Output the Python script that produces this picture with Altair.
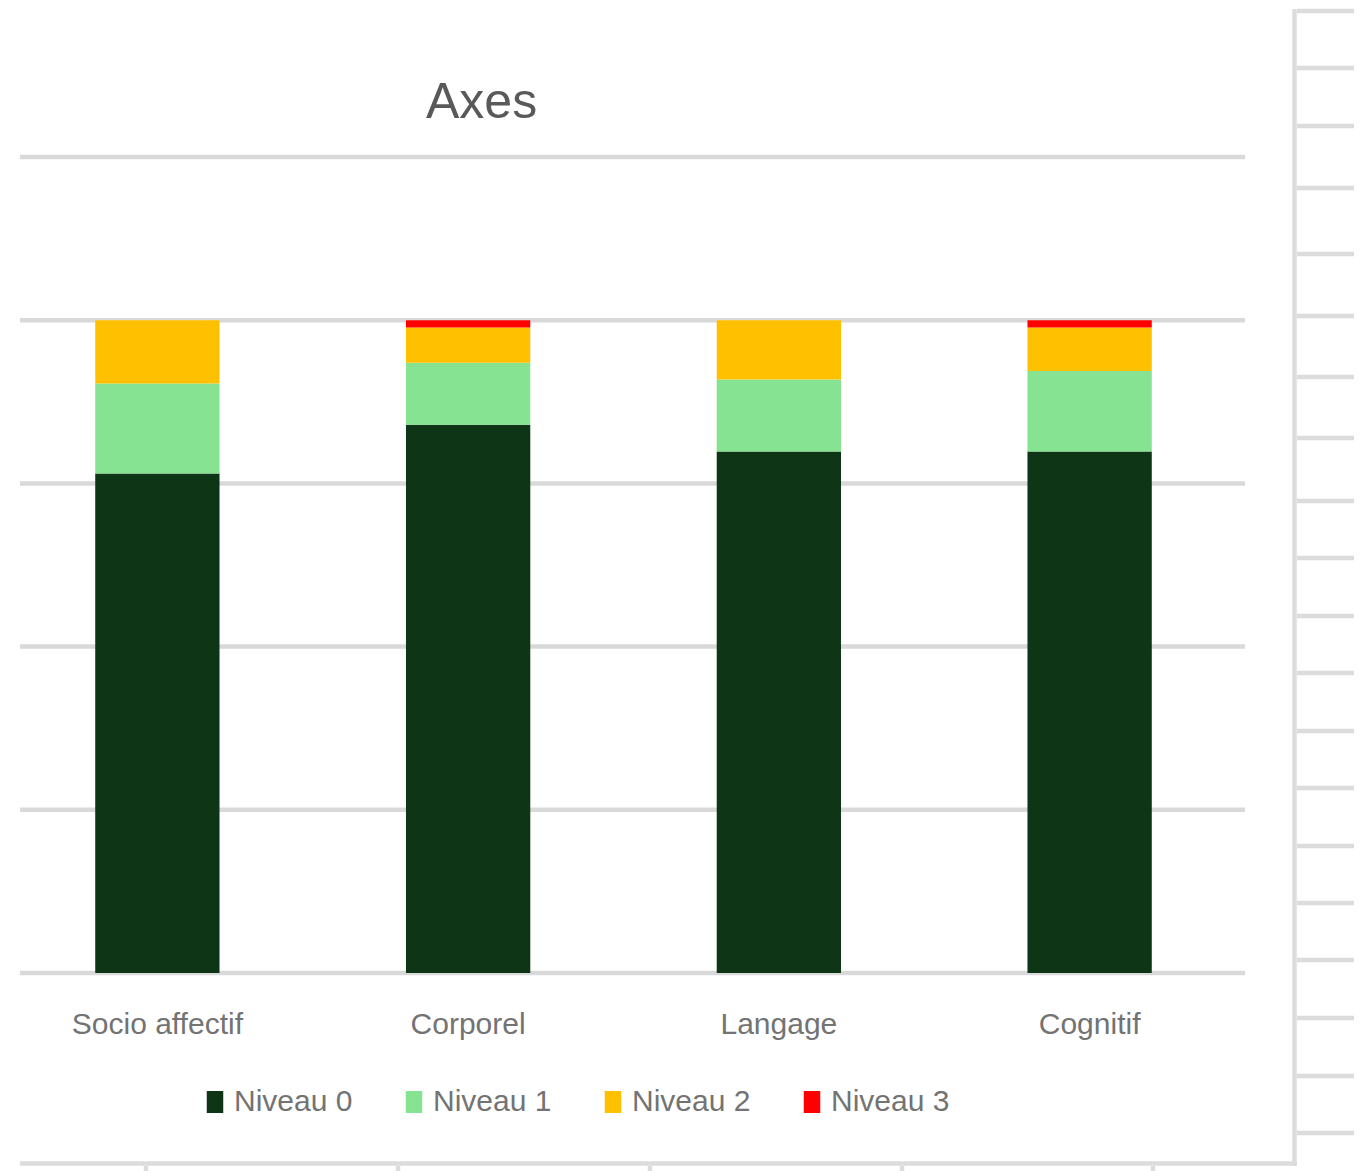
import altair as alt
import pandas as pd

# ---- chart values ----
categories = ["Socio affectif", "Corporel", "Langage", "Cognitif"]
levels = ["Niveau 0", "Niveau 1", "Niveau 2", "Niveau 3"]
niveau_0 = [76.5, 84.0, 79.9, 79.9]
niveau_1 = [13.8, 9.5, 11.0, 12.3]
niveau_2 = [9.7, 5.4, 9.1, 6.7]
niveau_3 = [0.0, 1.1, 0.0, 1.1]
level_colors = ["#0e3515", "#86e391", "#ffc000", "#ff0000"]
y_ticks = [0, 25, 50, 75, 100, 125]
title_text = ["Axes"]

# ---- spreadsheet decoration (cell borders around the chart object) ----
sheet_row_y = [11, 68, 126, 188, 254, 316, 377, 438, 501, 558, 616, 673,
               731, 788, 846, 903, 960, 1018, 1076, 1133]
sheet_col_x = [146, 398, 650, 902, 1153]

PAD_L, PAD_T = 2, 157
W, H = 1243, 816

rows = []
for i, cat in enumerate(categories):
    for j, (lvl, vals) in enumerate(zip(levels, [niveau_0, niveau_1, niveau_2, niveau_3])):
        rows.append({"axe": cat, "niveau": lvl, "valeur": vals[i], "ordre": j})
df = pd.DataFrame(rows)

yscale = alt.Scale(domain=[0, 125], nice=False, zero=True)

grid = alt.Chart(pd.DataFrame({"t": y_ticks})).mark_rule(
    color="#d9d9d9", strokeWidth=4.5
).encode(
    y=alt.Y("t:Q", scale=yscale, axis=None),
    x=alt.value(18),
    x2=alt.value(W),
)

bars = alt.Chart(df).mark_bar(stroke=None).encode(
    x=alt.X(
        "axe:N",
        sort=categories,
        scale=alt.Scale(paddingInner=0.6, paddingOuter=0.3),
        axis=alt.Axis(
            title=None, labelAngle=0, domain=False, ticks=False, grid=False,
            labelPadding=36, labelFontSize=30, labelFont="Liberation Sans",
            labelColor="#737373",
        ),
    ),
    y=alt.Y("valeur:Q", stack="zero", scale=yscale, axis=None),
    color=alt.Color(
        "niveau:N",
        scale=alt.Scale(domain=levels, range=level_colors),
        legend=alt.Legend(
            title=None, orient="none", direction="horizontal",
            legendX=198, legendY=930,
            symbolType="M-0.75,-1L0.75,-1L0.75,1L-0.75,1Z",
            symbolSize=484, symbolStrokeWidth=0, symbolOpacity=1,
            labelFontSize=30, labelFont="Liberation Sans", labelColor="#737373",
            labelOffset=4, columnPadding=46,
        ),
    ),
    order=alt.Order("ordre:Q", sort="ascending"),
)

title = alt.Chart(pd.DataFrame({"t": title_text})).mark_text(
    align="left", baseline="alphabetic", fontSize=50,
    font="Liberation Sans", color="#595959",
).encode(
    text="t:N",
    x=alt.value(424),
    y=alt.value(118 - PAD_T),
)

# decoration lines in page pixels, converted to plot-relative pixels
segs = []
segs.append({"x": 1294.5 - PAD_L, "x2": 1294.5 - PAD_L, "y": 9 - PAD_T, "y2": 1166 - PAD_T})
segs.append({"x": 20 - PAD_L, "x2": 1297 - PAD_L, "y": 1163.5 - PAD_T, "y2": 1163.5 - PAD_T})
for yy in sheet_row_y:
    segs.append({"x": 1297 - PAD_L, "x2": 1354 - PAD_L, "y": yy - PAD_T, "y2": yy - PAD_T})
for xx in sheet_col_x:
    segs.append({"x": xx - PAD_L, "x2": xx - PAD_L, "y": 1166 - PAD_T, "y2": 1171 - PAD_T})

deco = alt.Chart(pd.DataFrame(segs)).mark_rule(color="#dcdcdc", strokeWidth=4.5).encode(
    x=alt.X("x:Q", scale=None),
    x2="x2:Q",
    y=alt.Y("y:Q", scale=None),
    y2="y2:Q",
)

chart = alt.layer(grid, bars, title, deco).resolve_scale(x="independent").properties(
    width=W,
    height=H,
    autosize=alt.AutoSizeParams(type="none"),
    padding={"left": PAD_L, "top": PAD_T, "right": 1371 - PAD_L - W, "bottom": 1171 - PAD_T - H},
    background="white",
).configure_view(stroke=None)

chart.save("out.html", embed_options={"renderer": "svg", "actions": False})
